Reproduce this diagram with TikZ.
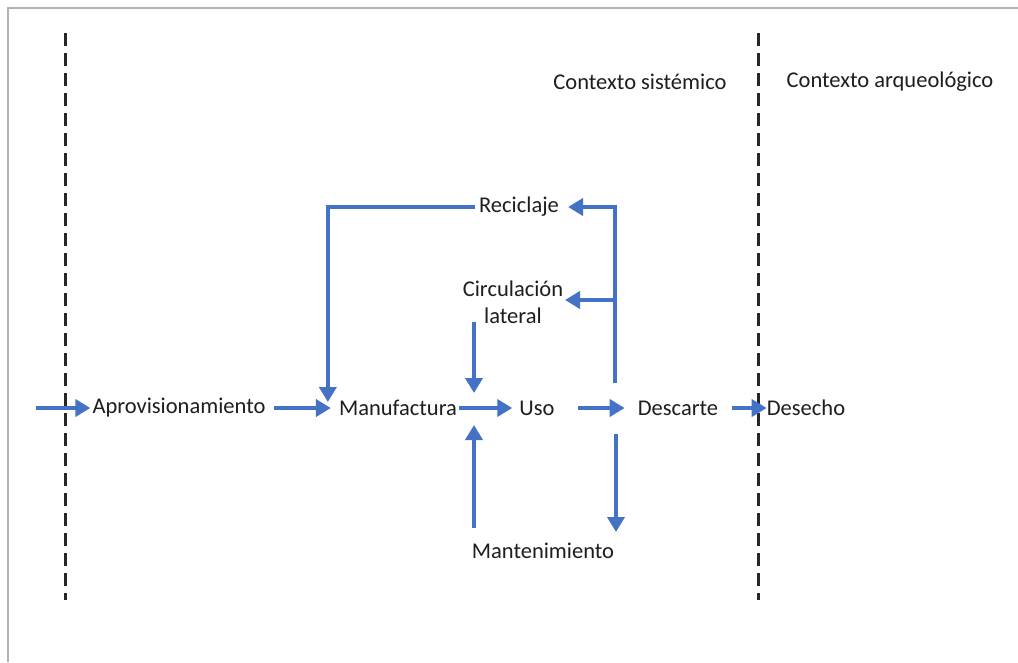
\documentclass[tikz,border=0pt]{standalone}
\usepackage{fontspec}
\setmainfont{Carlito}
\usetikzlibrary{arrows.meta}
\definecolor{flow}{RGB}{68,114,196}
\definecolor{txt}{RGB}{30,30,30}
\begin{document}
\begin{tikzpicture}[x=1pt,y=-1pt,
  lbl/.style={inner sep=0pt,text=txt,font=\fontsize{22.5}{27}\selectfont},
  arr/.style={draw=flow,line width=4pt,-{Triangle[length=15pt,width=17pt]}},
  seg/.style={draw=flow,line width=4pt},
  divider/.style={draw=black!85,line width=3pt,dash pattern=on 13pt off 7pt}]
\useasboundingbox (0,0) rectangle (1018,662);
\fill[white] (0,0) rectangle (1018,662);
\draw[gray!60,line width=1.5pt] (8,662) -- (8,8) -- (1018,8);
% dividers
\draw[divider] (65,33) -- (65,600);
\draw[divider] (758,33) -- (758,600);
% labels
\node[lbl] (sist) at (640,82) {Contexto sistémico};
\node[lbl] (arq) at (890,82) {Contexto arqueológico};
\node[lbl] (apro) at (179,408) {Aprovisionamiento};
\node[lbl] (manu) at (398,408) {Manufactura};
\node[lbl] (uso) at (537,408) {Uso};
\node[lbl] (desc) at (678,408) {Descarte};
\node[lbl] (dese) at (806,408) {Desecho};
\node[lbl] (reci) at (519,207) {Reciclaje};
\node[lbl,align=center] (circ) at (513,302) {Circulación\\lateral};
\node[lbl] (mant) at (543,551) {Mantenimiento};
\coordinate (in) at (36,408);
% main chain
\draw[arr] (in) -- ([xshift=-2pt]apro.west);
\draw[arr] ([xshift=8pt]apro.east) -- ([xshift=-8pt]manu.west);
\draw[arr] ([xshift=2pt]manu.east) -- ([xshift=-7pt]uso.west);
\draw[arr] ([xshift=23pt]uso.east) -- ([xshift=-13pt]desc.west);
\draw[arr] ([xshift=14pt]desc.east) -- ([xshift=0pt]dese.west);
% reciclaje loop
\draw[arr] ([xshift=-4pt]reci.west) -| ([xshift=-11pt,yshift=-2pt]manu.north west);
% from descarte upward
\coordinate (up) at (615,383);
\draw[seg] (up) -- (615,300);
\draw[arr] (up) |- ([xshift=9pt]reci.east);
\draw[arr] (615,300) -- (565,300);
% circulacion to uso
\draw[arr] (474,322) -- (474,393);
% mantenimiento to uso
\draw[arr] (474,528) -- (474,425);
% descarte down
\draw[arr] (616,434) -- (616,532);
\end{tikzpicture}
\end{document}
